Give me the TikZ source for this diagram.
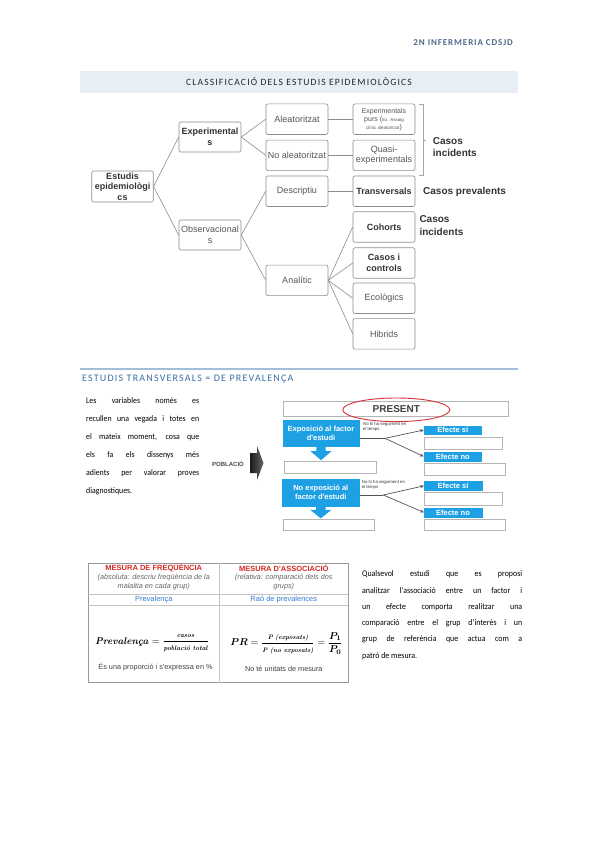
\documentclass[tikz,border=0pt]{standalone}
\usepackage{amsmath}
\usepackage{fontspec}
\usepackage{bm}
\usetikzlibrary{shapes.geometric,arrows.meta}
\newfontfamily\arial{Liberation Sans}
\newfontfamily\calib[FakeStretch=0.92]{Carlito}
\newfontfamily\calibsp[LetterSpace=10]{Carlito}
\newfontfamily\calibspb[LetterSpace=12]{Carlito}
\definecolor{tgray}{HTML}{8C8C8C}
\definecolor{ttext}{HTML}{555555}
\definecolor{tbold}{HTML}{333333}
\definecolor{bandfill}{HTML}{E8EEF6}
\definecolor{hdr}{HTML}{4E6A8C}
\definecolor{secblue}{HTML}{3A6EA5}
\definecolor{secline}{HTML}{A3BEDB}
\definecolor{blueb}{HTML}{1DA1E4}
\definecolor{redell}{HTML}{D8323A}
\definecolor{tred}{HTML}{D42A20}
\definecolor{tblue}{HTML}{2F7FD2}
\definecolor{wbord}{HTML}{B5B5B5}
\definecolor{tabl}{HTML}{C4C4C4}
\definecolor{arrg}{HTML}{555555}
\tikzset{
  tbox/.style={draw=tgray, rounded corners=2pt, line width=0.6pt, minimum width=62pt,
    minimum height=30.5pt, inner sep=0pt, font=\arial\fontsize{9}{10.5}\selectfont,
    text=ttext, align=center},
  tboxb/.style={tbox, text=tbold, font=\arial\bfseries\fontsize{9}{10.5}\selectfont},
  tlink/.style={draw=tgray, line width=0.6pt},
  casos/.style={font=\arial\bfseries\fontsize{10}{12.5}\selectfont, text=tbold, align=left, inner sep=0pt},
  bluebox/.style={fill=blueb, draw=blueb, inner sep=0pt, text=white, align=center,
    font=\arial\bfseries\fontsize{7.5}{9.4}\selectfont},
  whitebox/.style={draw=wbord, line width=0.8pt, fill=white, inner sep=0pt},
  smallnote/.style={font=\arial\fontsize{4.3}{5}\selectfont, text=black!80, align=left, inner sep=0pt},
  effarrow/.style={draw=arrg, line width=0.7pt, -{Stealth[length=4pt,width=3.2pt]}},
  lpara/.style={font=\calib\fontsize{8.5}{9}\selectfont, inner sep=0pt, anchor=west},
  rpara/.style={font=\calib\fontsize{8.6}{9}\selectfont, inner sep=0pt, anchor=west},
  tabtitle/.style={font=\arial\bfseries\fontsize{7.5}{9}\selectfont, text=tred, inner sep=0pt},
  tabsub/.style={font=\arial\itshape\fontsize{7.3}{9.4}\selectfont, text=black!60, align=center, inner sep=0pt},
  tabblue/.style={font=\arial\fontsize{7.5}{9}\selectfont, text=tblue, inner sep=0pt},
  tabnote/.style={font=\arial\fontsize{7.3}{9}\selectfont, text=black!75, inner sep=0pt},
  formula/.style={font=\rmfamily\fontsize{9.8}{11}\selectfont, inner sep=0pt}
}
\begin{document}
\begin{tikzpicture}[x=1pt,y=-1pt]
\useasboundingbox (0,0) rectangle (599,848);
\fill[white] (0,0) rectangle (599,848);

% header
\node[anchor=east, inner sep=0pt, text=hdr, font=\calibsp\bfseries\fontsize{9}{10}\selectfont] (hdrtxt) at (513,42.7) {2N INFERMERIA CDSJD};
\node[fill=bandfill, minimum width=438pt, minimum height=22pt, inner sep=0pt, anchor=north west] (band) at (80,70.7) {};
\node[inner sep=0pt, text=black!85, font=\calibspb\fontsize{9.6}{10}\selectfont] (bandtxt) at (299,82) {CLASSIFICACIÓ DELS ESTUDIS EPIDEMIOLÒGICS};

% tree
\node[tboxb, minimum width=61.5pt, minimum height=31pt] (est) at (122.5,186.5) {Estudis\\epidemiològi\\cs};
\node[tboxb, minimum height=30pt] (exp) at (210,137) {Experimental\\s};
\node[tbox, minimum height=30pt] (obs) at (210,235) {Observacional\\s};
\node[tbox] (ale) at (297,119.2) {Aleatoritzat};
\node[tbox] (noale) at (297,155.3) {No aleatoritzat};
\node[tbox] (desc) at (297,191.2) {Descriptiu};
\node[tbox] (anal) at (297,280.3) {Analític};
\node[tbox, font=\arial\fontsize{7}{8}\selectfont] (purs) at (384,119.2) {Experimentals\\purs ({\fontsize{4.5}{8}\selectfont Ex. Assaig}\\{\fontsize{4.5}{8}\selectfont clínic aleatoritzat})};
\node[tbox] (quasi) at (384,155.3) {Quasi-\\experimentals};
\node[tboxb] (trans) at (384,191.2) {Transversals};
\node[tboxb] (coh) at (384,227) {Cohorts};
\node[tboxb] (cic) at (384,263) {Casos i\\controls};
\node[tbox] (eco) at (384,298.2) {Ecològics};
\node[tbox] (hib) at (384,333.8) {Hibrids};
\draw[tlink] (est.east) -- (exp.west);
\draw[tlink] (est.east) -- (obs.west);
\draw[tlink] (exp.east) -- (ale.west);
\draw[tlink] (exp.east) -- (noale.west);
\draw[tlink] (obs.east) -- (desc.west);
\draw[tlink] (obs.east) -- (anal.west);
\draw[tlink] (ale.east) -- (purs.west);
\draw[tlink] (noale.east) -- (quasi.west);
\draw[tlink] (desc.east) -- (trans.west);
\draw[tlink] (anal.east) -- (coh.west);
\draw[tlink] (anal.east) -- (cic.west);
\draw[tlink] (anal.east) -- (eco.west);
\draw[tlink] (anal.east) -- (hib.west);
\draw[draw=black!35, line width=0.5pt] (419,104) -- (423,104) -- (423,175) -- (419,175);
\draw[draw=black!35, line width=0.5pt] (423,140.5) -- (426,140.5);
\node[casos, anchor=west] (ci1) at (432.7,147.3) {Casos\\incidents};
\node[casos, anchor=west] (cp) at (423,191.7) {Casos prevalents};
\node[casos, anchor=west] (ci2) at (419.3,225.8) {Casos\\incidents};

% section 2
\draw[secline, line width=1.2pt] (80,369) -- (518,369);
\node[anchor=west, inner sep=0pt, text=secblue, font=\calibspb\fontsize{10}{11}\selectfont] (sec2) at (82,379.5) {ESTUDIS TRANSVERSALS = DE PREVALENÇA};

\node[lpara] (lp1) at (86,401) {\makebox[113pt][s]{Les variables només es}};
\node[lpara] (lp2) at (86,419) {\makebox[113pt][s]{recullen una vegada i totes en}};
\node[lpara] (lp3) at (86,437.5) {\makebox[113pt][s]{el mateix moment, cosa que}};
\node[lpara] (lp4) at (86,455.5) {\makebox[113pt][s]{els fa els dissenys més}};
\node[lpara] (lp5) at (86,473.5) {\makebox[113pt][s]{adients per valorar proves}};
\node[lpara] (lp6) at (86,491) {diagnostiques.};

% poblacio
\node[inner sep=0pt, text=black!70, font=\arial\bfseries\fontsize{6}{7}\selectfont] (pob) at (228,464) {POBLACIÓ};
\shade[left color=black!90, right color=black!60] (250,453) -- (257,453) -- (257,446) -- (263.5,463) -- (257,480) -- (257,473) -- (250,473) -- cycle;

% present
\node[whitebox, minimum width=225pt, minimum height=15.7pt, font=\arial\bfseries\fontsize{10}{11}\selectfont, text=black!75] (pres) at (396.3,408.8) {PRESENT};
\node[ellipse, draw=redell, line width=0.9pt, minimum width=107pt, minimum height=23.6pt, inner sep=0pt] (presell) at (396.3,409.8) {};

\node[bluebox, minimum width=76.6pt, minimum height=26pt] (expo) at (321,433) {Exposició al factor\\d'estudi};
\node[whitebox, minimum width=92.7pt, minimum height=12.3pt] (wb1) at (330.3,467.2) {};
\node[bluebox, minimum width=77pt, minimum height=27pt] (noexpo) at (320.8,492.2) {No exposició al\\factor d'estudi};
\node[whitebox, minimum width=90.7pt, minimum height=11.5pt] (wb2) at (328.7,525) {};

\fill[blueb] ([xshift=-4.7pt]expo.south) -- ++(0,5) -- ++(-5.8,0) -- ++(10.5,9) -- ++(10.5,-9) -- ++(-5.8,0) -- ++(0,-5) -- cycle;
\fill[blueb] ([xshift=-4.7pt]noexpo.south) -- ++(0,4) -- ++(-5.8,0) -- ++(10.5,8.5) -- ++(10.5,-8.5) -- ++(-5.8,0) -- ++(0,-4) -- cycle;

\node[bluebox, minimum width=57.7pt, minimum height=8.6pt] (es1) at (452.8,430) {Efecte sí};
\node[whitebox, minimum width=78.7pt, minimum height=12pt] (ew1) at (463.3,443.3) {};
\node[bluebox, minimum width=57.7pt, minimum height=8.4pt] (en1) at (452.8,456.5) {Efecte no};
\node[whitebox, minimum width=81pt, minimum height=12pt] (ew2) at (464.5,469.7) {};
\node[bluebox, minimum width=57.4pt, minimum height=8.3pt] (es2) at (453,485.8) {Efecte sí};
\node[whitebox, minimum width=78pt, minimum height=12.3pt] (ew3) at (463.3,498.8) {};
\node[bluebox, minimum width=57.4pt, minimum height=8.4pt] (en2) at (453,512.5) {Efecte no};
\node[whitebox, minimum width=81pt, minimum height=10.7pt] (ew4) at (464.5,524.7) {};

\node[smallnote, anchor=west] (note1) at (363,426.5) {No hi ha seguiment en\\el temps};
\node[smallnote, anchor=west] (note2) at (361.7,485) {No hi ha seguiment en\\el temps};

\coordinate (b1) at (385,438.3);
\coordinate (b2) at (383.3,495);
\draw[draw=arrg, line width=0.7pt] ([yshift=-5.3pt]expo.east) -- (b1);
\draw[effarrow] (b1) -- (es1.west);
\draw[effarrow] (b1) -- (en1.west);
\draw[draw=arrg, line width=0.7pt] ([yshift=-2.8pt]noexpo.east) -- (b2);
\draw[effarrow] (b2) -- (es2.west);
\draw[effarrow] (b2) -- (en2.west);

% table
\draw[draw=black!40, line width=0.9pt] (88.3,563.3) rectangle (348.3,682.7);
\draw[draw=tabl, line width=0.6pt] (219.3,563.3) -- (219.3,682.7);
\draw[draw=tabl, line width=0.6pt] (88.3,594.3) -- (348.3,594.3);
\draw[draw=tabl, line width=0.6pt] (88.3,605.7) -- (348.3,605.7);
\node[tabtitle] (t1) at (153.8,568) {MESURA DE FREQÜÈNCIA};
\node[tabsub] (t1b) at (153.8,582.3) {(absoluta: descriu freqüència de la\\malaltia en cada grup)};
\node[tabtitle] (t2) at (283.8,568) {MESURA D'ASSOCIACIÓ};
\node[tabsub] (t2b) at (283.8,582.3) {(relativa: comparació dels dos\\grups)};
\node[tabblue] (p1) at (153.8,600) {Prevalença};
\node[tabblue] (p2) at (283.8,600) {Raó de prevalences};
\node[formula] (f1) at (152,643.3) {\textbf{\textit{Prevalença}} $=\dfrac{\text{\fontsize{6.6}{8}\selectfont\bfseries\itshape casos}}{\text{\fontsize{6.6}{8}\selectfont\bfseries\itshape població total}}$};
\node[tabnote] (n1) at (155.5,667.3) {És una proporció i s'expressa en \%};
\node[formula] (f2) at (286.5,643.3) {$\bm{PR}=\dfrac{\text{\fontsize{6.4}{8}\selectfont\bfseries\itshape P (exposats)}}{\text{\fontsize{6.4}{8}\selectfont\bfseries\itshape P (no exposats)}}=\dfrac{\bm{P_1}}{\bm{P_0}}$};
\node[tabnote] (n2) at (283.8,669) {No té unitats de mesura};

% right paragraph
\node[rpara] (rp1) at (362,574.3) {\makebox[160pt][s]{Qualsevol estudi que es proposi}};
\node[rpara] (rp2) at (362,590.7) {\makebox[160pt][s]{analitzar l'associació entre un factor i}};
\node[rpara] (rp3) at (362,607.3) {\makebox[160pt][s]{un efecte comporta realitzar una}};
\node[rpara] (rp4) at (362,623.3) {\makebox[160pt][s]{comparació entre el grup d’interès i un}};
\node[rpara] (rp5) at (362,639.3) {\makebox[160pt][s]{grup de referència que actua com a}};
\node[rpara] (rp6) at (362,656) {patró de mesura.};
\end{tikzpicture}
\end{document}
